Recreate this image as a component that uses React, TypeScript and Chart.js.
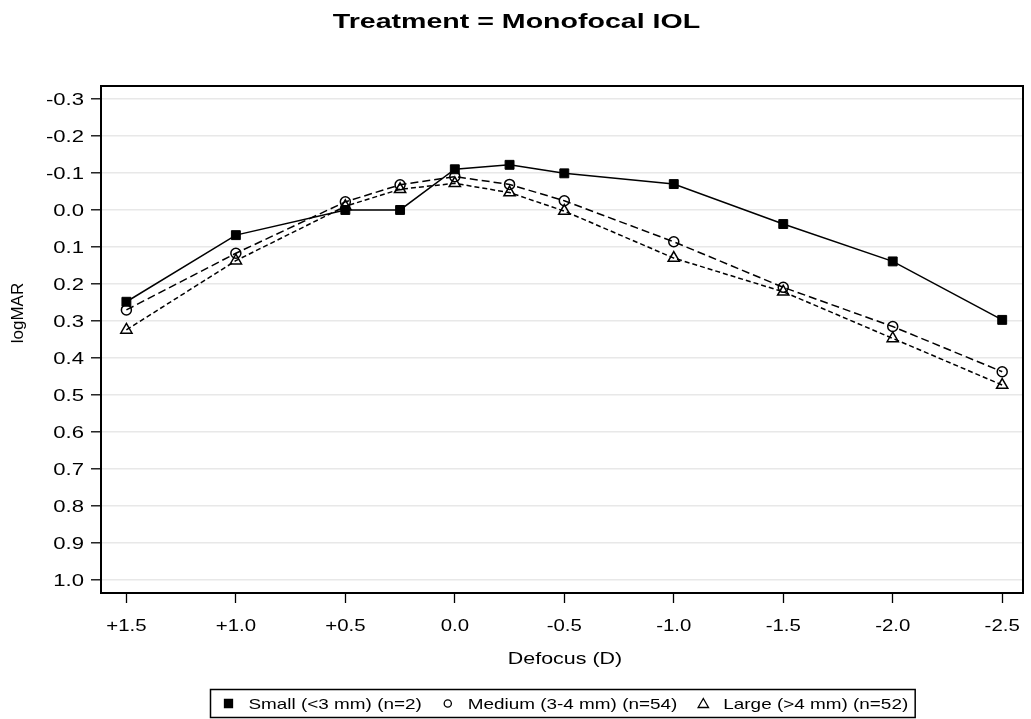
import React, { useEffect, useRef } from "react";
import { Chart, registerables } from "chart.js";

Chart.register(...registerables);

const defocus = [1.5, 1.0, 0.5, 0.25, 0.0, -0.25, -0.5, -1.0, -1.5, -2.0, -2.5];
const small = [0.248, 0.068, 0.0, 0.0, -0.11, -0.122, -0.099, -0.07, 0.038, 0.139, 0.297];
const medium = [0.27, 0.117, -0.022, -0.068, -0.09, -0.069, -0.025, 0.086, 0.209, 0.315, 0.437];
const large = [0.324, 0.137, -0.01, -0.056, -0.072, -0.047, 0.003, 0.13, 0.221, 0.347, 0.473];
const xTicks = [1.5, 1.0, 0.5, 0.0, -0.5, -1.0, -1.5, -2.0, -2.5];
const yTicks = [-0.3, -0.2, -0.1, 0.0, 0.1, 0.2, 0.3, 0.4, 0.5, 0.6, 0.7, 0.8, 0.9, 1.0];
const seriesLabels = ["Small (<3 mm) (n=2)", "Medium (3-4 mm) (n=54)", "Large (>4 mm) (n=52)"];
const titleText = "Treatment = Monofocal IOL";
const xTitle = "Defocus (D)";
const yTitle = "logMAR";

const FONT = '"Liberation Sans", Arial, Helvetica, sans-serif';

const fmtX = (v: number) => (v > 0 ? "+" : "") + v.toFixed(1);
const fmtY = (v: number) => v.toFixed(1);

function wideText(
  ctx: CanvasRenderingContext2D,
  text: string,
  x: number,
  y: number,
  align: CanvasTextAlign,
  k: number
) {
  ctx.save();
  ctx.translate(x, y);
  ctx.scale(k, 1);
  ctx.textAlign = align;
  ctx.textBaseline = "alphabetic";
  ctx.fillText(text, 0, 0);
  ctx.restore();
}

const framePlugin = {
  id: "frame",
  beforeDatasetsDraw(chart: any) {
    const { ctx, chartArea } = chart;
    ctx.save();
    ctx.strokeStyle = "#000";
    ctx.lineWidth = 2;
    ctx.strokeRect(chartArea.left, chartArea.top, chartArea.right - chartArea.left, chartArea.bottom - chartArea.top);
    ctx.restore();
  },
};

const textPlugin = {
  id: "sasText",
  afterDraw(chart: any) {
    const { ctx, chartArea, scales } = chart;
    const W = chart.width;
    ctx.save();
    ctx.fillStyle = "#000";
    // title
    ctx.font = `bold 21px ${FONT}`;
    wideText(ctx, titleText, W / 2 + 1, 28, "center", 1.36);
    // x tick labels
    ctx.font = `17px ${FONT}`;
    scales.x.ticks.forEach((t: any) => {
      wideText(ctx, fmtX(t.value), scales.x.getPixelForValue(t.value), 631, "center", 1.2);
    });
    // y tick labels
    ctx.font = `16px ${FONT}`;
    scales.y.ticks.forEach((t: any) => {
      wideText(ctx, fmtY(t.value), 84, scales.y.getPixelForValue(t.value) + 5.8, "right", 1.38);
    });
    // x title
    ctx.font = `17px ${FONT}`;
    wideText(ctx, xTitle, (chartArea.left + chartArea.right) / 2 + 3, 664, "center", 1.26);
    // y title
    ctx.save();
    ctx.translate(22.5, 313);
    ctx.rotate(-Math.PI / 2);
    ctx.textAlign = "center";
    ctx.textBaseline = "alphabetic";
    ctx.fillText(yTitle, 0, 0);
    ctx.restore();
    ctx.restore();
  },
};

function drawMarker(ctx: CanvasRenderingContext2D, style: string, x: number, y: number, filled: boolean) {
  ctx.beginPath();
  if (style === "rect") {
    ctx.rect(x - 4, y - 4, 8, 8);
  } else if (style === "circle") {
    ctx.arc(x, y, 3.6, 0, Math.PI * 2);
  } else {
    ctx.moveTo(x, y - 5);
    ctx.lineTo(x + 5.2, y + 4);
    ctx.lineTo(x - 5.2, y + 4);
    ctx.closePath();
  }
  if (filled) ctx.fill();
  ctx.stroke();
}

const legendPlugin = {
  id: "boxLegend",
  afterDraw(chart: any) {
    const { ctx, chartArea } = chart;
    ctx.save();
    ctx.font = `15px ${FONT}`;
    const k = 1.26;
    const padL = 18;
    const markerToText = 20;
    const textToMarker = 26;
    const padR = 7;
    const items = chart.data.datasets.map((ds: any) => ({
      label: ds.label,
      style: ds.pointStyle,
      filled: ds.pointBackgroundColor !== "transparent",
      w: ctx.measureText(ds.label).width * k,
    }));
    const boxW =
      padL + items.reduce((s: number, it: any) => s + markerToText + it.w, 0) + textToMarker * (items.length - 1) + padR;
    const cx = (chartArea.left + chartArea.right) / 2;
    const left = Math.round(cx - boxW / 2) + 0.5;
    const top = 689.5;
    const h = 28;
    ctx.strokeStyle = "#000";
    ctx.fillStyle = "#000";
    ctx.lineWidth = 1.5;
    ctx.strokeRect(left, top, boxW, h);
    let x = left + padL;
    const y = top + h / 2;
    items.forEach((it: any) => {
      ctx.lineWidth = 1.3;
      drawMarker(ctx, it.style, x, y, it.filled);
      x += markerToText;
      wideText(ctx, it.label, x, y + 5.5, "left", k);
      x += it.w + textToMarker;
    });
    ctx.restore();
  },
};

export default function App() {
  const ref = useRef<HTMLCanvasElement>(null);
  useEffect(() => {
    if (!ref.current) return;
    const mk = (vals: number[]) => defocus.map((d, i) => ({ x: d, y: vals[i] }));
    const chart = new Chart(ref.current, {
      type: "line",
      data: {
        datasets: [
          {
            label: seriesLabels[0],
            data: mk(small),
            borderColor: "#000",
            borderWidth: 1.5,
            pointStyle: "rect",
            pointRadius: 6.3,
            pointBackgroundColor: "#000",
            pointBorderColor: "#000",
            pointBorderWidth: 1,
            tension: 0,
          },
          {
            label: seriesLabels[1],
            data: mk(medium),
            borderColor: "#000",
            borderWidth: 1.5,
            borderDash: [8, 4],
            pointStyle: "circle",
            pointRadius: 5,
            pointBackgroundColor: "transparent",
            pointBorderColor: "#000",
            pointBorderWidth: 1.5,
            tension: 0,
          },
          {
            label: seriesLabels[2],
            data: mk(large),
            borderColor: "#000",
            borderWidth: 1.5,
            borderDash: [5, 3],
            pointStyle: "triangle",
            pointRadius: 6.5,
            pointBackgroundColor: "transparent",
            pointBorderColor: "#000",
            pointBorderWidth: 1.5,
            tension: 0,
          },
        ],
      },
      options: {
        responsive: false,
        animation: false,
        layout: { padding: { left: 0, right: 0, top: 86, bottom: 0 } },
        plugins: {
          legend: { display: false },
          tooltip: { enabled: false },
          title: { display: false },
        },
        scales: {
          x: {
            type: "linear",
            reverse: true,
            min: -2.595,
            max: 1.616,
            afterBuildTicks: (s: any) => {
              s.ticks = xTicks.map((v) => ({ value: v }));
            },
            afterFit: (s: any) => {
              s.height = 126;
              s.paddingLeft = 0;
              s.paddingRight = 0;
            },
            ticks: { display: false },
            grid: { drawOnChartArea: false, drawTicks: true, tickLength: 10, tickColor: "#000", tickWidth: 1.3 },
            border: { display: true, color: "#000", width: 2 },
          },
          y: {
            type: "linear",
            reverse: true,
            min: -0.335,
            max: 1.035,
            afterBuildTicks: (s: any) => {
              s.ticks = yTicks.map((v) => ({ value: v }));
            },
            afterFit: (s: any) => {
              s.width = 101;
              s.paddingTop = 0;
              s.paddingBottom = 0;
            },
            ticks: { display: false },
            grid: { color: "#e8e8e8", lineWidth: 1.6, drawTicks: true, tickLength: 10, tickColor: "#000", tickWidth: 1.3 },
            border: { display: true, color: "#000", width: 2 },
          },
        },
      },
      plugins: [framePlugin, textPlugin, legendPlugin],
    });
    return () => chart.destroy();
  }, []);
  return (
    <div style={{ position: "fixed", left: 0, top: 0, background: "#fff" }}>
      <canvas ref={ref} width={1031} height={719} style={{ display: "block", width: 1031, height: 719 }} />
    </div>
  );
}
